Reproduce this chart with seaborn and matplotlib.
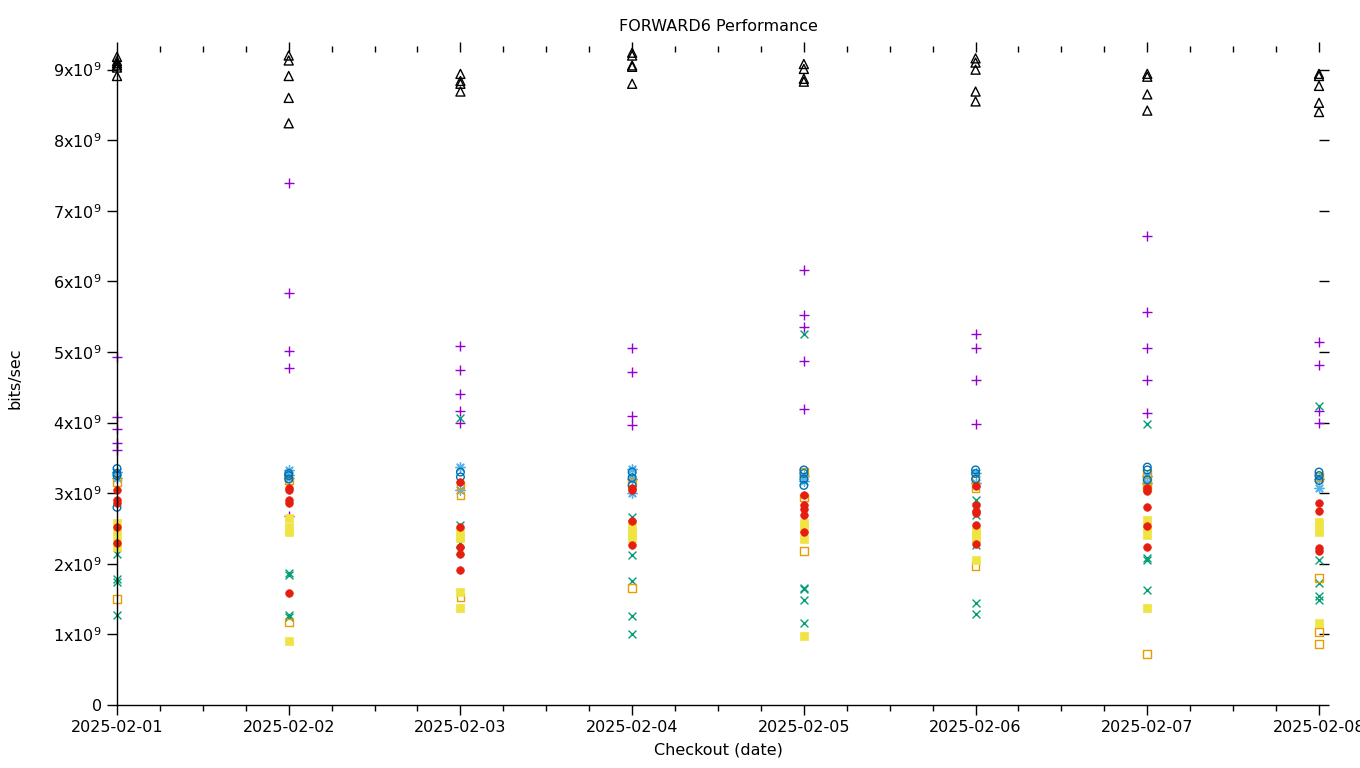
import matplotlib
matplotlib.use("Agg")
import matplotlib.pyplot as plt
import matplotlib.dates as mdates
from matplotlib.ticker import FuncFormatter, FixedLocator
import numpy as np
import pandas as pd
import seaborn as sns

# ---------------- data (values in units of 1e9 bits/sec) ----------------
dates = ["2025-02-01", "2025-02-02", "2025-02-03", "2025-02-04",
         "2025-02-05", "2025-02-06", "2025-02-07", "2025-02-08"]

plus_vals = [[4.93, 4.08, 3.91, 3.71, 3.61],
             [7.40, 5.83, 5.01, 4.78, 2.68],
             [5.09, 4.74, 4.40, 4.17, 4.00],
             [5.05, 4.71, 4.10, 3.96],
             [6.16, 5.53, 5.35, 4.87, 4.19],
             [5.25, 5.05, 4.60, 3.98],
             [6.64, 5.56, 5.05, 4.60, 4.13],
             [5.14, 4.81, 4.16, 3.99]]

cross_vals = [[2.14, 1.78, 1.74, 1.27],
              [1.87, 1.84, 1.27, 1.25],
              [4.06, 2.55, 2.29, 2.18],
              [2.66, 2.12, 1.75, 1.26, 1.00],
              [5.26, 1.66, 1.65, 1.49, 1.16],
              [2.90, 2.69, 2.26, 1.44, 1.29],
              [3.98, 2.08, 2.05, 1.63],
              [4.23, 2.05, 1.73, 1.54, 1.49]]

star_vals = [[3.30, 3.22],
             [3.33, 3.26, 3.22],
             [3.37, 3.04],
             [3.35, 3.20, 3.00],
             [3.25, 3.18],
             [3.28, 3.15],
             [3.24, 3.14],
             [3.20, 3.08]]

open_sq_vals = [[3.16, 1.50],
                [3.18, 1.17],
                [3.11, 2.97, 1.52],
                [3.15, 1.66],
                [3.30, 2.94, 2.18],
                [3.20, 3.07, 1.97],
                [3.28, 3.18, 3.08, 0.72],
                [3.23, 1.80, 1.03, 0.86]]

filled_sq_vals = [[2.58, 2.45, 2.33, 2.24],
                  [2.65, 2.52, 2.45, 0.91],
                  [2.47, 2.37, 1.60, 1.37],
                  [2.53, 2.45, 2.36],
                  [2.58, 2.50, 2.35, 0.98],
                  [2.48, 2.40, 2.36, 2.05],
                  [2.62, 2.52, 2.41, 1.37],
                  [2.59, 2.52, 2.45, 1.16]]

open_circ_vals = [[3.35, 3.28, 3.25, 2.80],
                  [3.28, 3.25, 3.20],
                  [3.30, 3.23],
                  [3.30, 3.22, 3.11],
                  [3.33, 3.28, 3.20, 3.11],
                  [3.33, 3.28, 3.20],
                  [3.37, 3.33, 3.19],
                  [3.30, 3.25, 3.18]]

filled_circ_vals = [[3.04, 2.90, 2.86, 2.52, 2.29],
                    [3.08, 3.04, 2.90, 2.86, 1.58],
                    [3.16, 2.52, 2.24, 2.14, 1.91],
                    [3.08, 3.05, 2.60, 2.27],
                    [2.97, 2.84, 2.77, 2.69, 2.45],
                    [3.10, 2.83, 2.75, 2.72, 2.55, 2.28],
                    [3.08, 3.03, 2.80, 2.53, 2.24],
                    [2.86, 2.75, 2.22, 2.18]]

triangle_vals = [[9.18, 9.12, 9.09, 9.06, 9.03, 8.91],
                 [9.20, 9.13, 8.91, 8.60, 8.24],
                 [8.94, 8.84, 8.80, 8.69],
                 [9.24, 9.20, 9.06, 9.04, 8.80],
                 [9.08, 9.01, 8.87, 8.83],
                 [9.16, 9.10, 9.00, 8.69, 8.55],
                 [8.94, 8.90, 8.65, 8.42],
                 [8.94, 8.91, 8.77, 8.53, 8.40]]

ytick_vals = [0, 1, 2, 3, 4, 5, 6, 7, 8, 9]
title = "FORWARD6 Performance"
xlabel = "Checkout (date)"
ylabel = "bits/sec"


def to_frame(vals):
    rows = []
    for d, vs in zip(dates, vals):
        for v in vs:
            rows.append((pd.Timestamp(d), v * 1e9))
    return pd.DataFrame(rows, columns=["date", "value"])


# gnuplot-like series styles: (values, marker, color, filled/line/open, size)
series = [
    (plus_vals, "+", "#9400d3", "line", 45),
    (cross_vals, "x", "#009e73", "line", 32),
    (star_vals, (8, 2, 0), "#56b4e9", "line", 45),
    (open_sq_vals, "s", "#e69f00", "open", 30),
    (filled_sq_vals, "s", "#f0e442", "filled", 32),
    (open_circ_vals, "o", "#0072b2", "open", 30),
    (filled_circ_vals, "o", "#e51e10", "filled", 30),
    (triangle_vals, "^", "#000000", "open", 42),
]

# ---------------- plotting ----------------
sns.set_theme(style="ticks")
plt.rcParams["font.family"] = ["DejaVu Sans"]
plt.rcParams["mathtext.default"] = "regular"

W, H = 1360, 768
fig = plt.figure(figsize=(W / 100, H / 100), dpi=100)
left, right, top, bottom = 117, 1319, 52, 705
ax = fig.add_axes([left / W, (H - bottom) / H, (right - left) / W, (bottom - top) / H])

for vals, marker, color, kind, size in series:
    df = to_frame(vals)
    if kind == "line":
        sns.scatterplot(data=df, x="date", y="value", ax=ax, marker=marker,
                        color=color, s=size, linewidth=1.0, legend=False,
                        clip_on=False)
    elif kind == "open":
        sns.scatterplot(data=df, x="date", y="value", ax=ax, marker=marker,
                        facecolor="none", edgecolor=color, s=size,
                        linewidth=1.0, legend=False, clip_on=False)
    else:
        sns.scatterplot(data=df, x="date", y="value", ax=ax, marker=marker,
                        color=color, edgecolor=color, s=size,
                        linewidth=0.5, legend=False, clip_on=False)

ax.set_xlim(pd.Timestamp(dates[0]), pd.Timestamp(dates[-1]))
ax.set_ylim(0, 9.25e9)

ax.xaxis.set_major_locator(mdates.DayLocator())
ax.xaxis.set_major_formatter(mdates.DateFormatter("%Y-%m-%d"))
ax.xaxis.set_minor_locator(mdates.HourLocator(byhour=[6, 12, 18]))

ax.yaxis.set_major_locator(FixedLocator([v * 1e9 for v in ytick_vals]))


def yfmt(v, pos):
    k = int(round(v / 1e9))
    if k == 0:
        return "0"
    return r"$%dx10^{9}$" % k


ax.yaxis.set_major_formatter(FuncFormatter(yfmt))

for s in ["top", "right"]:
    ax.spines[s].set_visible(False)
for s in ["left", "bottom"]:
    ax.spines[s].set_color("black")
    ax.spines[s].set_linewidth(1.0)

ax.tick_params(axis="both", which="major", direction="out", length=7, width=1,
               color="black", labelcolor="black", labelsize=11.5,
               top=True, right=True)
ax.tick_params(axis="both", which="minor", direction="out", length=4, width=1,
               color="black", top=True, right=True)
ax.tick_params(axis="x", pad=4)
ax.tick_params(axis="y", pad=4)

ax.set_xlabel(xlabel, fontsize=11.5, color="black", labelpad=5)
ax.set_ylabel(ylabel, fontsize=11.5, color="black", labelpad=22)
ax.set_title(title, fontsize=11.5, color="black", pad=15)
ax.grid(False)

fig.savefig("out.png", dpi=100)
